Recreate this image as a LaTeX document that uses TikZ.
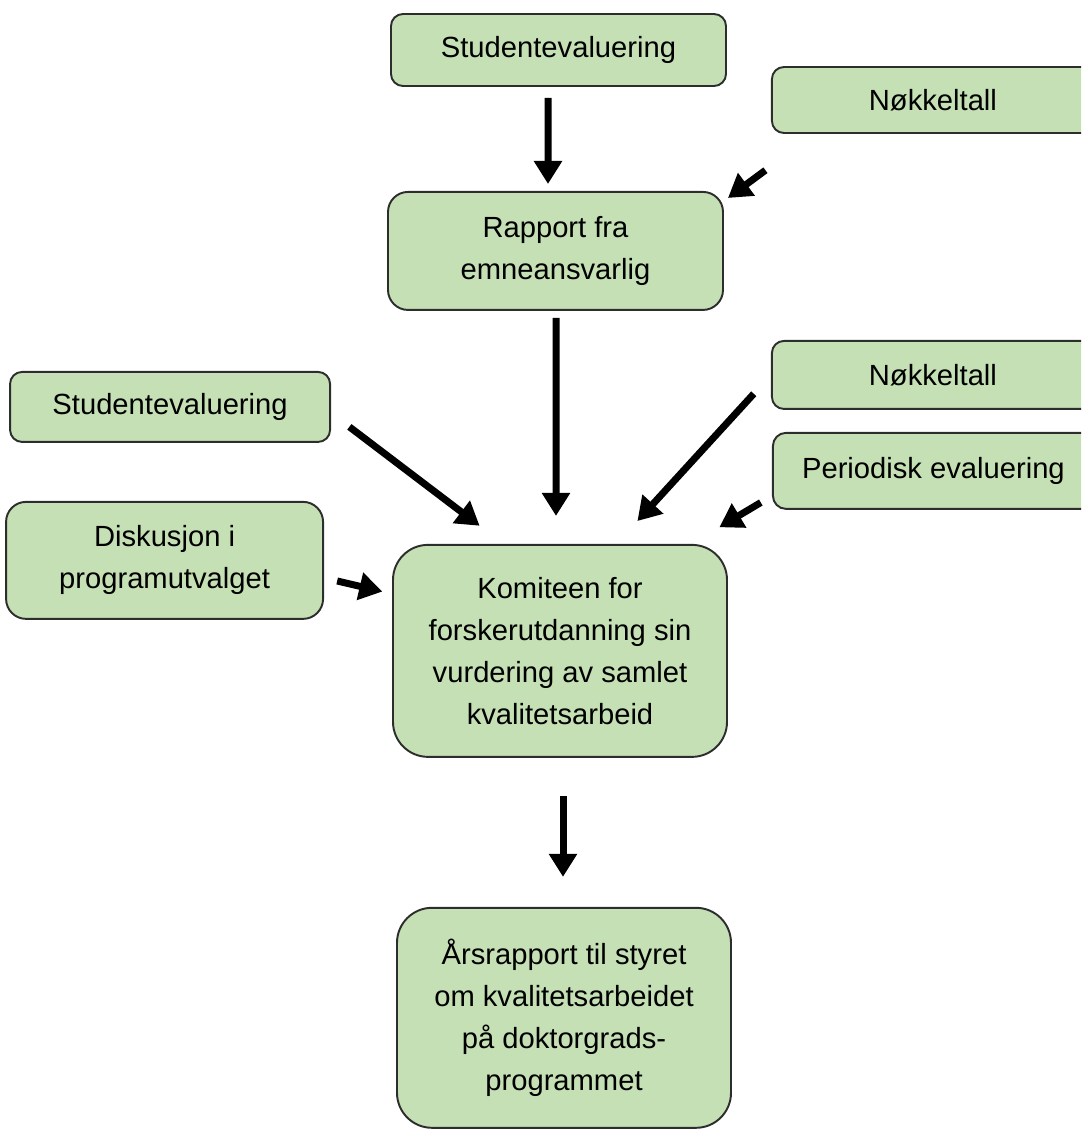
\documentclass[tikz,border=0pt]{standalone}
\usepackage{fontspec}
\setmainfont{Liberation Sans}
\usepackage{tikz}
\usetikzlibrary{positioning, arrows.meta}
\definecolor{boxgreen}{RGB}{197,224,180}
\definecolor{boxline}{RGB}{45,45,45}

\begin{document}
\begin{tikzpicture}[
        box/.style={draw=boxline, line width=1.1pt, fill=boxgreen, align=center, inner sep=0pt,
            font=\fontsize{16.6}{23.9}\selectfont, rounded corners=0.24cm}, % Box style
        arrow/.style={line width=0.14cm, -{Triangle[length=0.46cm, width=0.54cm]}} % Arrow style
    ]

    \useasboundingbox (0,0) rectangle (21.62,-22.66);
    \clip (0,0) rectangle (21.62,-22.66);

    % Middle column
    \node (stud1) [box, minimum width=6.7cm, minimum height=1.44cm] at (11.17,-1.0) {Studentevaluering};
    \node (rapport) [box, minimum width=6.7cm, minimum height=2.36cm, rounded corners=0.4cm, below=2.08cm of stud1, xshift=-0.06cm] {Rapport fra\\emneansvarlig};
    \node (komite) [box, minimum width=6.68cm, minimum height=4.24cm, rounded corners=0.7cm, below=4.66cm of rapport, xshift=0.09cm] {Komiteen for\\forskerutdanning sin\\vurdering av samlet\\kvalitetsarbeid};
    \node (arsrapport) [box, minimum width=6.68cm, minimum height=4.4cm, rounded corners=0.7cm, below=2.98cm of komite, xshift=0.08cm] {Årsrapport til styret\\om kvalitetsarbeidet\\på doktorgrads-\\programmet};

    % Right column
    \node (nokkel1) [box, minimum width=6.44cm, minimum height=1.32cm, right=0.88cm of stud1, yshift=-1.0cm] {Nøkkeltall};
    \node (nokkel2) [box, minimum width=6.44cm, minimum height=1.36cm, below=4.12cm of nokkel1] {Nøkkeltall};
    \node (periodisk) [box, minimum width=6.42cm, minimum height=1.52cm, rounded corners=0.26cm, below=0.44cm of nokkel2, xshift=0.01cm] {Periodisk evaluering};

    % Left column
    \node (stud2) [box, minimum width=6.4cm, minimum height=1.4cm, left=1.12cm of rapport, yshift=-3.12cm] {Studentevaluering};
    \node (diskusjon) [box, minimum width=6.34cm, minimum height=2.34cm, rounded corners=0.4cm, below=1.16cm of stud2, xshift=-0.11cm] {Diskusjon i\\programutvalget};

    % Arrows into the report
    \draw[arrow, shorten <=0.22cm, shorten >=0.14cm] ([xshift=-0.21cm]stud1.south) -- ([xshift=-0.15cm]rapport.north);
    \draw[arrow, shorten <=1.22cm] ([xshift=0.87cm]nokkel1.south west) -- ([xshift=0.08cm, yshift=-0.14cm]rapport.north east);

    % Arrows into the committee
    \draw[arrow, shorten <=0.14cm, shorten >=0.56cm] ([xshift=0.01cm]rapport.south) -- ([xshift=-0.08cm]komite.north);
    \draw[arrow, shorten <=0.46cm, shorten >=0.6cm] ([yshift=-0.12cm]stud2.east) -- ([xshift=-1.13cm]komite.north);
    \draw[arrow, shorten <=0.27cm, shorten >=0.2cm] ([yshift=-0.35cm]diskusjon.east) -- ([yshift=1.14cm]komite.west);
    \draw[arrow, shorten <=0.51cm, shorten >=0.62cm] (nokkel2.west) -- ([xshift=1.13cm]komite.north);
    \draw[arrow, shorten <=0.26cm, shorten >=0.65cm] ([yshift=-0.5cm]periodisk.west) -- ([xshift=-0.73cm]komite.north east);

    % Annual report
    \draw[arrow, shorten <=0.76cm, shorten >=0.6cm] ([xshift=0.06cm]komite.south) -- ([xshift=-0.02cm]arsrapport.north);

\end{tikzpicture}
\end{document}
